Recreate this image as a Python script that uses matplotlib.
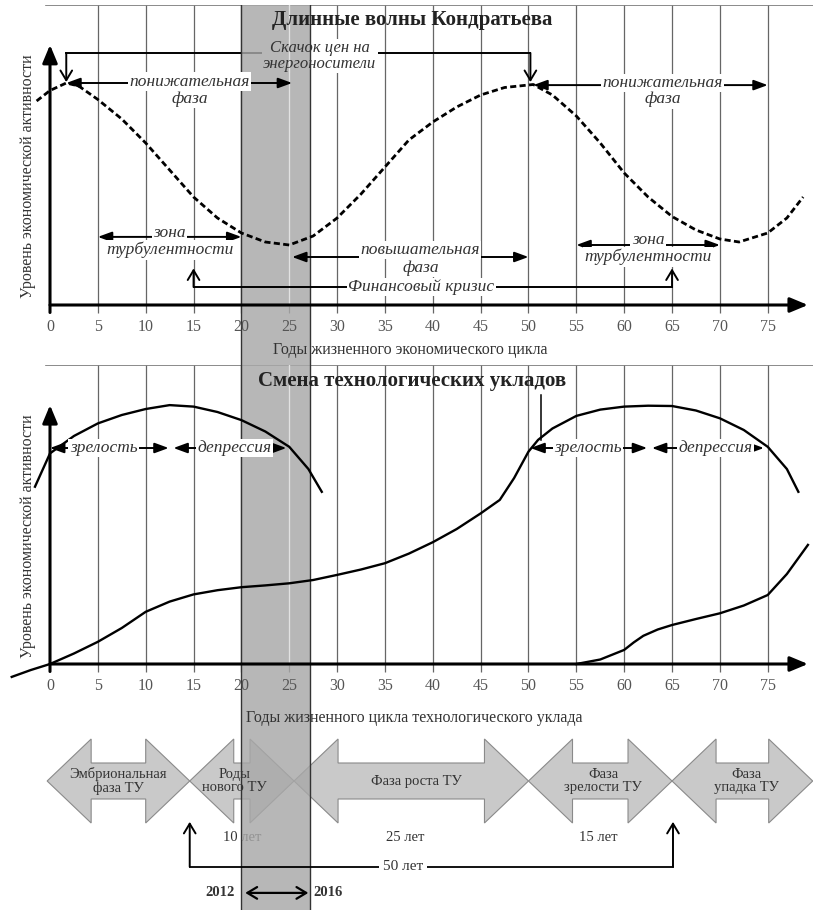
import numpy as np
import matplotlib
matplotlib.use("Agg")
from matplotlib import pyplot as plt

plt.rcParams['font.family'] = ['Liberation Serif', 'DejaVu Serif']

# --- upper panel: Kondratiev long wave (dashed)
wave_years = [-1.4, 0, 1.7, 3, 5, 7.5, 10, 12.5, 15, 17.5, 20, 22.5, 25, 27.5, 30,
              32.5, 35, 37.5, 40, 42.5, 45, 47.5, 50.5, 52.5, 55, 57.5, 60, 62.5,
              65, 67.5, 70, 72, 75, 77, 78.7]
wave_level = [68, 71.5, 74, 73, 68.5, 62, 54, 45, 36, 29, 24, 21, 20, 23, 29,
              37, 46, 55, 61, 66, 70, 72.5, 73.5, 70, 63, 54, 44, 36,
              29.5, 25, 22, 21, 24, 29, 36]
peak_years = [1.7, 50.2]

# --- lower panel: technological paradigms
old_years = [-1.57, 0, 2.5, 5, 7.5, 10, 12.5, 15, 17.5, 20, 22.5, 25, 27, 28.4]
old_level = [59.1, 70.2, 76, 80.2, 83, 85, 86.3, 85.8, 84, 81.3, 77.5, 72.4, 65, 57.4]

cur_years = [-4, -2, 0, 2.5, 5, 7.5, 10, 12.5, 15, 17.5, 20, 22.5, 25, 27.5, 30,
             32.5, 35, 37.5, 40, 42.5, 45, 47, 48.5, 50, 51, 52.5, 55, 57.5, 60,
             62.5, 65, 67.5, 70, 72.5, 75, 77, 78.2]
cur_level = [-4.3, -2, 0, 3.5, 7.4, 12, 17.4, 20.8, 23.2, 24.6, 25.6, 26.2, 26.9, 28, 29.7,
             31.5, 33.6, 36.8, 40.6, 45, 50.2, 54.7, 62, 70.8, 74.7, 78.5, 82.7, 84.8, 85.8,
             86.1, 86, 84.5, 81.9, 78, 72.4, 65, 57.4]

new_years = [55, 57.5, 60, 61, 62, 63.5, 65, 67.5, 70, 72.5, 75, 77, 79.2]
new_level = [0, 1.5, 4.7, 7.2, 9.4, 11.5, 13, 15, 16.9, 19.5, 23, 30, 39.7]

tick_years = list(range(0, 80, 5))
grid_years = list(range(5, 80, 5))
band = (20, 27.2)

# --- phase arrows
phase_names = ["Эмбриональная\nфаза ТУ", "Роды\nнового ТУ", "Фаза роста ТУ",
               "Фаза\nзрелости ТУ", "Фаза\nупадка ТУ"]
phase_start = [-0.3, 14.6, 25.5, 50.0, 65.0]
phase_end = [14.6, 25.5, 50.0, 65.0, 79.7]
phase_label_x = [7.1, 19.3, 38.3, 57.8, 72.8]
durations = ["10 лет", "25 лет", "15 лет"]
duration_x = [20.1, 37.1, 57.3]

TXT = '#333333'
fig = plt.figure(figsize=(8.13, 9.10), dpi=100)
ax1 = fig.add_axes([0, 545 / 910, 1, 360 / 910])
ax2 = fig.add_axes([0, 0, 1, 545 / 910])
for ax in (ax1, ax2):
    ax.set_xlim(-5.225, 79.73)
    ax.axis('off')
ax1.set_ylim(-20, 100)
ax2.set_ylim(-82, 99.67)

AX_ARROW = dict(arrowstyle='-|>,head_length=0.6,head_width=0.25', color='k', lw=2.2,
                mutation_scale=18, shrinkA=0, shrinkB=0)
DBL = dict(arrowstyle='<|-|>,head_length=0.6,head_width=0.22', color='k', lw=1.4,
           mutation_scale=14, shrinkA=0, shrinkB=0)
UP = dict(arrowstyle='->,head_length=0.5,head_width=0.3', color='k', lw=1.4,
          mutation_scale=14, shrinkA=0, shrinkB=0)
WHITE = dict(facecolor='white', edgecolor='none', pad=1)


def frame(ax, top, ytop_axis):
    ax.vlines(grid_years, -2.5, top, colors='#666666', lw=0.9, zorder=1)
    ax.axvspan(*band, color='#a8a8a8', alpha=0.82, lw=0, zorder=4)
    for b in band:
        ax.axvline(b, color='#333333', lw=1, zorder=4.5)
    ax.plot([25, 25], [0, top], color='#e2e2e2', lw=1, zorder=4.6)
    ax.plot([-0.4, 79.7], [top, top], color='#777777', lw=1.2, zorder=1)
    ax.annotate('', xy=(79.2, 0), xytext=(0, 0), arrowprops=AX_ARROW, zorder=6)
    ax.annotate('', xy=(0, ytop_axis), xytext=(0, -2.5), arrowprops=AX_ARROW, zorder=6)
    for x in tick_years:
        ax.text(x, -7.2, str(x), ha='center', va='center', fontsize=11.5, color='#555555', zorder=6)


def span(ax, x0, x1, y, label, tx, ty, sub=None, sy=None):
    ax.annotate('', xy=(x0, y), xytext=(x1, y), arrowprops=DBL, zorder=5)
    ax.text(tx, ty, label, ha='center', va='center', fontsize=12.5, style='italic',
            color=TXT, bbox=WHITE, zorder=6)
    if sub:
        ax.text(tx, sy, sub, ha='center', va='center', fontsize=12.5, style='italic',
                color=TXT, bbox=WHITE, zorder=6)


# ---------- upper panel
frame(ax1, 100, 86.7)
ax1.plot(wave_years, wave_level, color='k', lw=2, ls=(0, (2.2, 1.2)), zorder=5)
ax1.text(37.8, 95, 'Длинные волны Кондратьева', ha='center', va='center',
         fontsize=15, fontweight='bold', color='#222222', zorder=6)
ax1.text(-2.3, 43, 'Уровень экономической активности', rotation=90, ha='center',
         va='center', fontsize=11.5, color=TXT, zorder=6)
ax1.text(37.6, -15, 'Годы жизненного экономического цикла', ha='center', va='center',
         fontsize=11.5, color=TXT, zorder=6)

# price-jump bracket: white box under the band, dark text on top of it
ax1.plot([peak_years[0], peak_years[1]], [84, 84], color='k', lw=1.4, zorder=3)
jump = 'Скачок цен на\nэнергоносители'
ax1.text(28.2, 83, jump, ha='center', va='center', fontsize=12, style='italic',
         color='white', linespacing=1.0, bbox=WHITE, zorder=3.5)
ax1.text(28.2, 83, jump, ha='center', va='center', fontsize=12, style='italic',
         color=TXT, linespacing=1.0, zorder=6)
for px in peak_years:
    ax1.annotate('', xy=(px, 74.3), xytext=(px, 84), arrowprops=UP, zorder=5)

span(ax1, 1.7, 25.3, 74, 'понижательная', 14.6, 74.5, 'фаза', 68.8)
span(ax1, 50.5, 75, 73.3, 'понижательная', 64, 74, 'фаза', 68.6)
span(ax1, 5, 20, 22.7, 'зона', 12.5, 24, 'турбулентности', 18.3)
span(ax1, 55, 70, 20, 'зона', 62.5, 21.7, 'турбулентности', 16)
span(ax1, 25.3, 50, 16, 'повышательная', 38.7, 18.3, 'фаза', 12.3)

ax1.plot([15, 65], [6, 6], color='k', lw=1.4, zorder=5)
ax1.text(38.8, 6, 'Финансовый кризис', ha='center', va='center', fontsize=12.5,
         style='italic', color=TXT, bbox=WHITE, zorder=6)
for px in (15, 65):
    ax1.annotate('', xy=(px, 12.2), xytext=(px, 6), arrowprops=UP, zorder=5)

# ---------- lower panel
frame(ax2, 99.67, 86.3)
ax2.plot(old_years, old_level, color='k', lw=1.7, zorder=5)
ax2.plot(cur_years, cur_level, color='k', lw=1.7, zorder=5)
ax2.plot(new_years, new_level, color='k', lw=1.7, zorder=5)
ax2.plot([51.3, 51.3], [74.7, 89.7], color='k', lw=1.1, zorder=5)
ax2.text(37.8, 94.3, 'Смена технологических укладов', ha='center', va='center',
         fontsize=15, fontweight='bold', color='#222222', zorder=6)
ax2.text(-2.3, 42.7, 'Уровень экономической активности', rotation=90, ha='center',
         va='center', fontsize=11.5, color=TXT, zorder=6)
ax2.text(38.1, -18, 'Годы жизненного цикла технологического уклада', ha='center',
         va='center', fontsize=11.5, color=TXT, zorder=6)

span(ax2, 0, 12.4, 72, 'зрелость', 5.6, 72)
span(ax2, 12.9, 24.7, 72, 'депрессия', 19.3, 72)
span(ax2, 50.2, 62.4, 72, 'зрелость', 56.2, 72)
span(ax2, 62.9, 74.6, 72, 'депрессия', 69.5, 72)

# ---------- phase arrows
yc, hh, sh, hl = -39, 14, 6, 4.6
for name, x0, x1, lx in zip(phase_names, phase_start, phase_end, phase_label_x):
    xs = [x0, x0 + hl, x0 + hl, x1 - hl, x1 - hl, x1, x1 - hl, x1 - hl, x0 + hl, x0 + hl]
    ys = [yc, yc + hh, yc + sh, yc + sh, yc + hh, yc, yc - hh, yc - sh, yc - sh, yc - hh]
    ax2.fill(xs, ys, facecolor='#c9c9c9', edgecolor='#8a8a8a', lw=0.8, zorder=2)
    ax2.text(lx, yc, name, ha='center', va='center', fontsize=10.5, color=TXT,
             linespacing=1.0, zorder=6)

for d, dx in zip(durations, duration_x):
    ax2.text(dx, -57.7, d, ha='center', va='center', fontsize=10.5, color=TXT, zorder=3.5)

ax2.plot([14.6, 65.1], [-67.6, -67.6], color='k', lw=1.3, zorder=5)
for px in (14.6, 65.1):
    ax2.annotate('', xy=(px, -52.6), xytext=(px, -67.6), arrowprops=UP, zorder=5)
ax2.text(36.9, -67.6, '50 лет', ha='center', va='center', fontsize=11, color=TXT,
         bbox=dict(facecolor='white', edgecolor='none', pad=3), zorder=6)

ax2.annotate('', xy=(20.4, -76.3), xytext=(27.0, -76.3),
             arrowprops=dict(arrowstyle='<->,head_length=0.5,head_width=0.3', color='k',
                             lw=1.6, mutation_scale=14, shrinkA=0, shrinkB=0), zorder=6)
ax2.text(17.8, -76.3, '2012', ha='center', va='center', fontsize=10.5,
         fontweight='bold', color=TXT, zorder=6)
ax2.text(29.0, -76.3, '2016', ha='center', va='center', fontsize=10.5,
         fontweight='bold', color=TXT, zorder=6)

fig.savefig('out.png', dpi=100)
